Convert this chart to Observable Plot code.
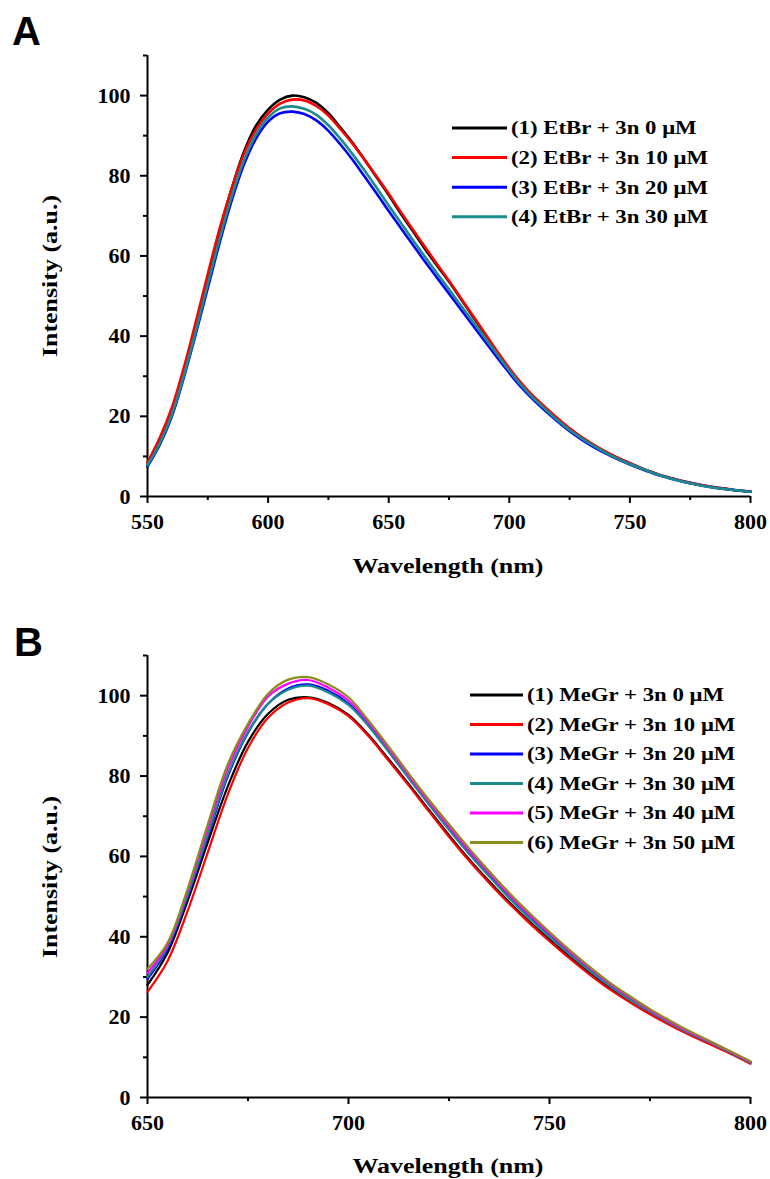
<!DOCTYPE html>
<html><head><meta charset="utf-8">
<script src="https://cdn.jsdelivr.net/npm/d3@7"></script>
<script src="https://cdn.jsdelivr.net/npm/@observablehq/plot@0.6"></script>
<style>
body{margin:0;background:#fff;}
#wrap{position:relative;width:770px;height:1179px;overflow:hidden;background:#fff}
.panel{position:absolute;left:0;width:770px}
#overlay{position:absolute;left:0;top:0;width:770px;height:1179px;pointer-events:none}
</style></head>
<body>
<div id="wrap">
  <div class="panel" id="pA" style="top:0"></div>
  <div class="panel" id="pB" style="top:600px"></div>
  <svg id="overlay" width="770" height="1179"></svg>
</div>
<script>
// ---------- Panel A data ----------
const wavesA = [550,555,560,565,570,575,580,585,590,595,600,605,610,615,620,625,630,635,640,645,650,655,660,665,670,675,680,685,690,695,700,705,710,715,720,725,730,735,740,745,750,755,760,765,770,775,780,785,790,795,800];
const labelsA = ["(1) EtBr + 3n 0 \u03bcM","(2) EtBr + 3n 10 \u03bcM","(3) EtBr + 3n 20 \u03bcM","(4) EtBr + 3n 30 \u03bcM"];
const colorsA = ["#000000","#ff0000","#0000ff","#1a8c8c"];
const etbr0  = [7.5,13.5,21,31,42.5,54.5,66.5,77,86,92.5,96.5,99,100,99.6,98.2,95.6,92,88.2,84,79.6,75.2,70.6,66.2,61.8,57.6,53.6,49.2,44.8,40.4,36,31.8,28,24.8,22,19.3,16.9,14.7,12.8,11.1,9.6,8.3,7,5.9,4.9,4.1,3.4,2.8,2.3,1.9,1.5,1.2];
const etbr10 = [8.5,14.5,22,32,43.5,55.5,67,77,85.5,91.5,95.5,98,99,98.8,97.4,95,91.6,88,84,79.8,75.5,71,66.6,62.3,58,53.8,49.4,45,40.6,36.2,32,28.3,25,22.2,19.5,17,14.8,12.9,11.2,9.6,8.3,7,5.9,4.9,4.1,3.4,2.8,2.3,1.9,1.5,1.3];
const etbr20 = [7.5,12.8,19.8,29.5,40.5,52,63.5,74,82.8,89.3,93.5,95.6,96,95.4,93.8,91.2,87.8,84,79.8,75.6,71.2,67,62.8,58.6,54.6,50.6,46.6,42.6,38.6,34.6,30.8,27.2,24.1,21.3,18.7,16.3,14.2,12.3,10.7,9.3,8,6.8,5.7,4.8,4,3.3,2.7,2.2,1.8,1.5,1.2];
const etbr30 = [7.8,13.2,20.3,30,41.2,53,64.5,75,83.8,90.3,94.5,96.8,97.3,96.7,95.2,92.6,89.2,85.4,81.3,77,72.6,68.3,64,59.8,55.7,51.7,47.6,43.5,39.5,35.4,31.4,27.7,24.5,21.7,19,16.6,14.5,12.6,10.9,9.4,8.1,6.9,5.8,4.8,4,3.3,2.7,2.2,1.8,1.5,1.2];
const xMajorA = [550,600,650,700,750,800];
const xMinorA = [575,625,675,725,775];
const yMajor = [0,20,40,60,80,100];
const yMinor = [10,30,50,70,90,110];

// ---------- Panel B data ----------
const wavesB = [650,655,660,665,670,675,680,685,690,695,700,705,710,715,720,725,730,735,740,745,750,755,760,765,770,775,780,785,790,795,800];
const labelsB = ["(1) MeGr + 3n 0 \u03bcM","(2) MeGr + 3n 10 \u03bcM","(3) MeGr + 3n 20 \u03bcM","(4) MeGr + 3n 30 \u03bcM","(5) MeGr + 3n 40 \u03bcM","(6) MeGr + 3n 50 \u03bcM"];
const colorsB = ["#000000","#ff0000","#0000ff","#1a8c8c","#ff00ff","#8c8c1a"];
const megr0  = [28,36,49,63.5,77.5,88.5,95.5,99,99.6,98.2,95.2,90.2,84.2,78,71.6,65.3,59.3,53.8,48.6,43.8,39.3,35,31,27.3,24,21,18.3,15.8,13.5,11.1,8.7];
const megr10 = [26.3,34,46.5,61,75.5,87,94.5,98.3,99.4,97.9,94.9,89.9,83.8,77.6,71.2,64.9,58.9,53.4,48.2,43.4,38.9,34.6,30.6,26.9,23.7,20.7,18,15.5,13.2,10.9,8.4];
const megr20 = [29.5,37,50,65,80,90.8,98,101.8,102.8,101.2,98,92.6,86.2,79.6,73.1,66.8,60.8,55.2,49.8,44.8,40.2,35.8,31.7,27.9,24.5,21.4,18.6,16,13.7,11.3,8.8];
const megr30 = [30,37.5,50.5,65.5,80.5,91,98,101.5,102.5,100.8,97.7,92.4,86,79.4,72.9,66.6,60.6,55,49.6,44.6,40,35.6,31.5,27.7,24.3,21.3,18.5,15.9,13.6,11.2,8.7];
const megr40 = [31,38,51.5,67,82,92.3,99.8,103,103.9,102,98.8,93.3,86.8,80.1,73.6,67.4,61.4,55.8,50.4,45.4,40.8,36.3,32.2,28.3,24.9,21.7,18.8,16.2,13.8,11.4,8.9];
const megr50 = [32,38.5,52,68,83,93,100.5,104,104.6,102.8,99.6,93.8,87.3,80.6,74.1,68,62,56.3,50.9,45.9,41.2,36.7,32.5,28.6,25.2,22,19.1,16.4,14,11.5,9];
const xMajorB = [650,700,750,800];
const xMinorB = [675,725,775];

const tidy = (waves, labels, arrays) => labels.flatMap((name, k) => waves.map((w, i) => ({w, v: arrays[k][i], s: name})));
const dataA = tidy(wavesA, labelsA, [etbr0, etbr10, etbr20, etbr30]);
const dataB = tidy(wavesB, labelsB, [megr0, megr10, megr20, megr30, megr40, megr50]);

function panel(data, labels, colors, xdom, xMaj, xMin, height, mb, sw) {
  return Plot.plot({
    width: 770, height,
    marginTop: 55, marginBottom: mb, marginLeft: 147, marginRight: 20,
    style: {fontFamily: "'Liberation Serif','Times New Roman',serif", fontSize: "22px", fontWeight: "bold", color: "#000", background: "transparent"},
    x: {domain: xdom},
    y: {domain: [0, 110]},
    color: {domain: labels, range: colors},
    marks: [
      Plot.axisX({ticks: xMaj, tickSize: 7, tickPadding: 10, strokeWidth: 2, label: null, tickFormat: d => String(d)}),
      Plot.axisX({ticks: xMin, tickSize: 4, strokeWidth: 2, text: null, label: null}),
      Plot.axisY({ticks: yMajor, tickSize: 7, tickPadding: 10, strokeWidth: 2, label: null, tickFormat: d => String(d)}),
      Plot.axisY({ticks: yMinor, tickSize: 4, strokeWidth: 2, text: null, label: null}),
      Plot.ruleX([xdom[0]], {strokeWidth: 2}),
      Plot.ruleY([0], {strokeWidth: 2}),
      Plot.line(data, {x: "w", y: "v", z: "s", stroke: "s", strokeWidth: sw, curve: "catmull-rom"})
    ]
  });
}

document.getElementById("pA").append(panel(dataA, labelsA, colorsA, [550, 800], xMajorA, xMinorA, 600, 104, 2.6));
document.getElementById("pB").append(panel(dataB, labelsB, colorsB, [650, 800], xMajorB, xMinorB, 579, 82, 2.2));

// ---------- overlay: panel letters, axis titles, legends ----------
const ov = d3.select("#overlay");
const serif = "'Liberation Serif','Times New Roman',serif";
function letter(t, x, y) {
  ov.append("text").attr("x", x).attr("y", y).text(t)
    .attr("font-family", "'Liberation Sans',Arial,sans-serif").attr("font-weight", "bold").attr("font-size", 40);
}
letter("A", 12, 45);
letter("B", 14, 656);
function titles(xc, yc, yx, yy) {
  ov.append("text").attr("transform", `translate(${xc},${yc}) scale(1.18,1)`)
    .attr("text-anchor", "middle").attr("dominant-baseline", "central")
    .attr("font-family", serif).attr("font-weight", "bold").attr("font-size", 22).text("Wavelength (nm)");
  ov.append("text").attr("transform", `translate(${yx},${yy}) rotate(-90) scale(1.18,1)`)
    .attr("text-anchor", "middle").attr("dominant-baseline", "central")
    .attr("font-family", serif).attr("font-weight", "bold").attr("font-size", 22).text("Intensity (a.u.)");
}
titles(448, 566, 50, 276);
titles(448, 1166, 50, 877);
function legend(labels, colors, x0, x1, tx, y0, dy) {
  labels.forEach((l, i) => {
    const y = y0 + i * dy;
    ov.append("line").attr("x1", x0).attr("x2", x1).attr("y1", y).attr("y2", y)
      .attr("stroke", colors[i]).attr("stroke-width", 3);
    ov.append("text").attr("transform", `translate(${tx},${y}) scale(1.2,1)`)
      .attr("dominant-baseline", "central")
      .attr("font-family", serif).attr("font-weight", "bold").attr("font-size", 19).text(l);
  });
}
legend(labelsA, colorsA, 452, 507, 511, 128, 29.6);
legend(labelsB, colorsB, 470, 523, 527, 695, 29.5);
</script>
</body></html>
